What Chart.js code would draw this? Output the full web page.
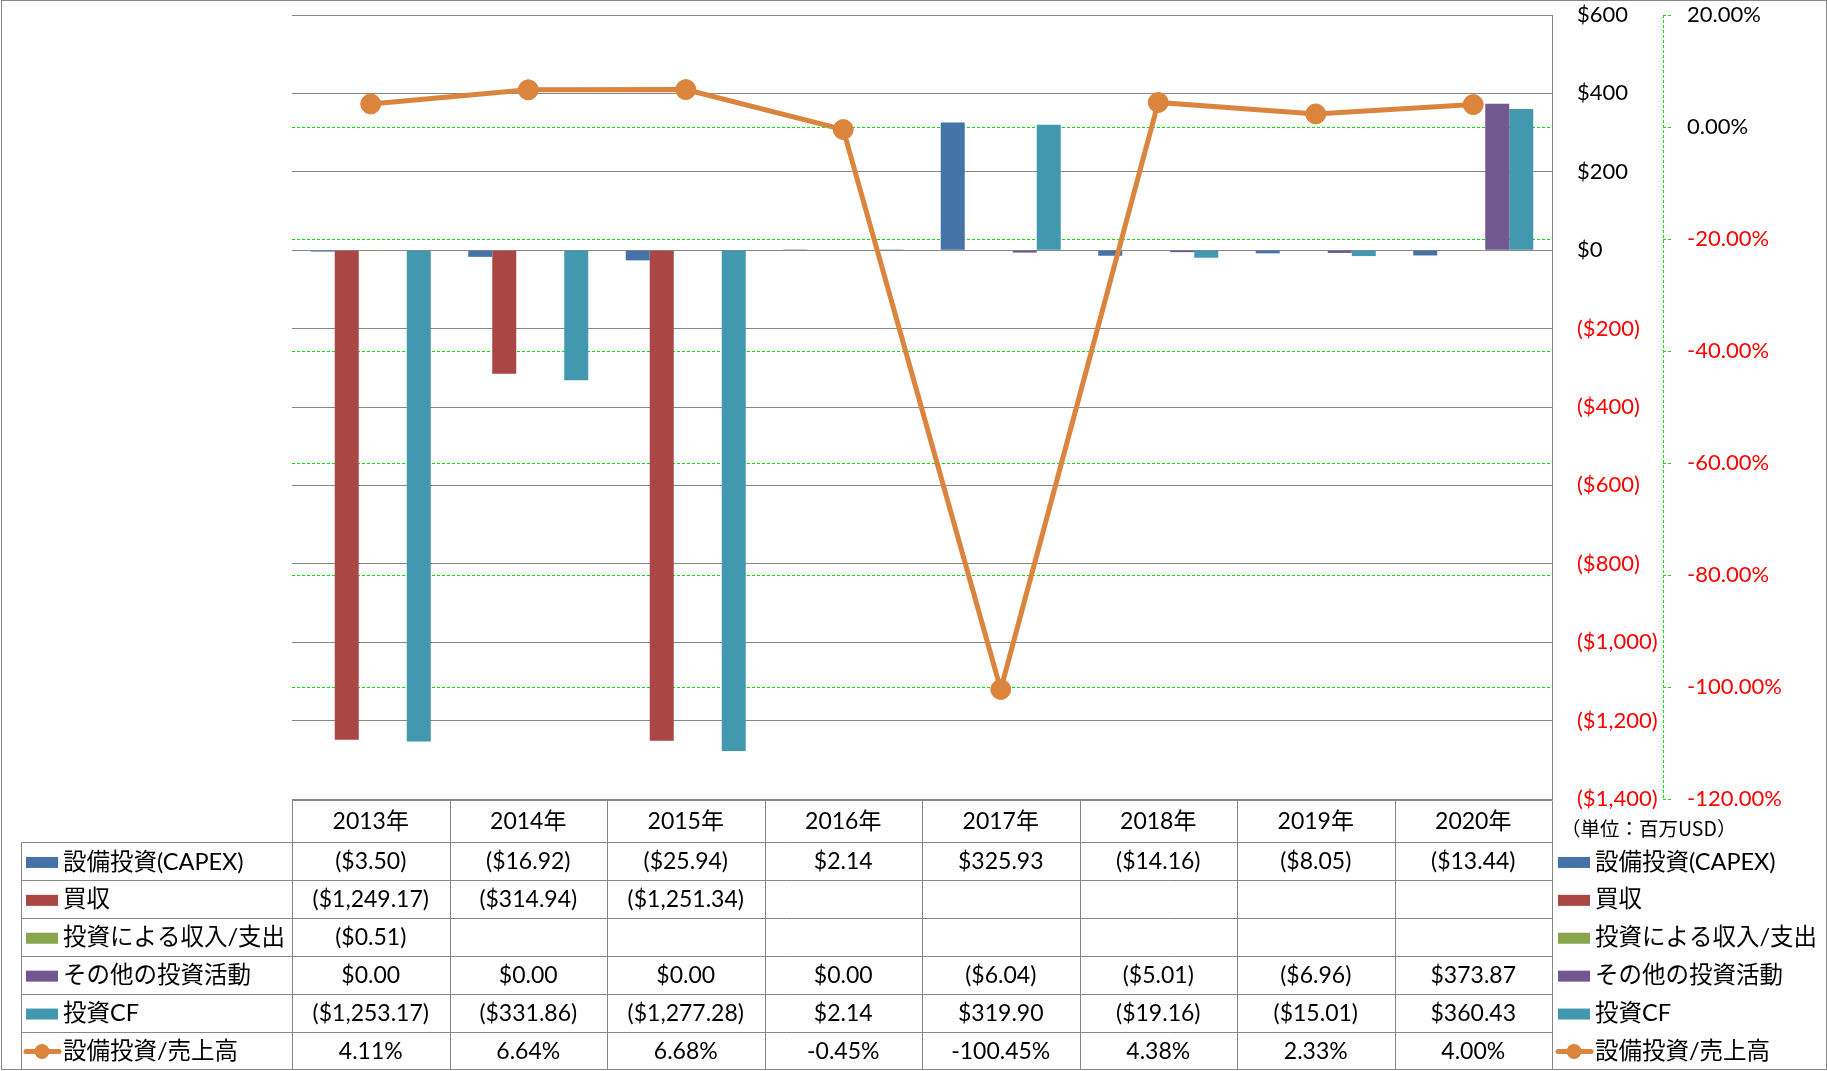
<!DOCTYPE html>
<html>
<head>
<meta charset="utf-8">
<script src="https://cdn.jsdelivr.net/npm/chart.js@4.4.1/dist/chart.umd.min.js"></script>
<style>
html,body{margin:0;padding:0;background:#fff;overflow:hidden}
canvas{display:block}
</style>
</head>
<body>
<canvas id="c" width="1827" height="1071"></canvas>
<script>
// ---- data ----
const categories = ['2013年','2014年','2015年','2016年','2017年','2018年','2019年','2020年'];
const capex      = [-3.50, -16.92, -25.94, 2.14, 325.93, -14.16, -8.05, -13.44];
const acquisition= [-1249.17, -314.94, -1251.34, null, null, null, null, null];
const investIO   = [-0.51, null, null, null, null, null, null, null];
const otherInvest= [0.00, 0.00, 0.00, 0.00, -6.04, -5.01, -6.96, 373.87];
const investCF   = [-1253.17, -331.86, -1277.28, 2.14, 319.90, -19.16, -15.01, 360.43];
const capexRatio = [4.11, 6.64, 6.68, -0.45, -100.45, 4.38, 2.33, 4.00];
const seriesNames = ['設備投資(CAPEX)','買収','投資による収入/支出','その他の投資活動','投資CF','設備投資/売上高'];
const usdRange = {min:-1400, max:600, step:200};
const pctRange = {min:-120, max:20, step:20};
const unitLabel = '（単位：百万USD）';

const FONT = 'Lato, "Noto Sans CJK JP", sans-serif';
const colors = ['#4572A7','#AA4643','#89A54E','#71588F','#4198AF','#DB843D'];
const GRAY = '#878787';
const GREEN = '#00e000';

function fmtMoney(v){
  if (v === null || v === undefined) return '';
  const s = Math.abs(v).toLocaleString('en-US',{minimumFractionDigits:2, maximumFractionDigits:2});
  return v < 0 ? '($' + s + ')' : '$' + s;
}
function fmtPct(v){
  if (v === null || v === undefined) return '';
  return v.toFixed(2) + '%';
}

const barSeries = [capex, acquisition, investIO, otherInvest, investCF];
const datasets = barSeries.map((d,i)=>({
  type:'bar', label:seriesNames[i], data:d, yAxisID:'y',
  backgroundColor:colors[i], borderWidth:0,
  categoryPercentage:0.762, barPercentage:1.0, order:0
}));
datasets.push({
  type:'line', label:seriesNames[5], data:capexRatio, yAxisID:'y1',
  borderColor:colors[5], backgroundColor:colors[5], borderWidth:5,
  pointRadius:10, pointHoverRadius:10, pointBackgroundColor:colors[5],
  pointBorderColor:colors[5], pointBorderWidth:1, tension:0, order:-1
});

function drawKey(ctx, ds, x, yc){
  ctx.save();
  if (ds.type === 'line'){
    ctx.strokeStyle = ds.borderColor; ctx.lineWidth = 5; ctx.lineCap='round';
    ctx.beginPath(); ctx.moveTo(x, yc); ctx.lineTo(x+33, yc); ctx.stroke();
    ctx.fillStyle = ds.borderColor;
    ctx.beginPath(); ctx.arc(x+16, yc, 7.5, 0, Math.PI*2); ctx.fill();
  } else {
    ctx.fillStyle = ds.backgroundColor;
    ctx.fillRect(x, yc-5, 32, 11);
  }
  ctx.restore();
}

const tablePlugin = {
  id:'dataTable',
  afterDraw(chart){
    const {ctx, chartArea} = chart;
    const xs = chart.scales.x;
    const n = categories.length;
    const L = chartArea.left, R = chartArea.right;
    const colW = (R - L) / n;
    const top = chartArea.bottom + 1;
    const headH = 42, rowH = 37.9;
    const leftX = 21;
    const rows = chart.data.datasets.length;
    const bottom = top + headH + rows*rowH;
    const px = v => Math.round(v) + 0.5;

    ctx.save();
    ctx.strokeStyle = GRAY; ctx.lineWidth = 1;
    ctx.beginPath();
    ctx.moveTo(L, px(top)); ctx.lineTo(R, px(top));
    for (let r = 0; r <= rows; r++){
      const y = px(top + headH + r*rowH);
      ctx.moveTo(px(leftX), y); ctx.lineTo(R, y);
    }
    for (let k = 0; k <= n; k++){
      const x = px(L + k*colW);
      ctx.moveTo(x, px(top)); ctx.lineTo(x, px(bottom));
    }
    ctx.moveTo(px(leftX), px(top+headH)); ctx.lineTo(px(leftX), px(bottom));
    ctx.stroke();

    ctx.fillStyle = '#000';
    ctx.textBaseline = 'middle';
    // header
    ctx.font = '23px ' + FONT;
    ctx.textAlign = 'center';
    categories.forEach((c,i)=>{
      ctx.fillText(c, xs.getPixelForValue(i), top + headH/2 + 1);
    });
    // rows
    chart.data.datasets.forEach((ds, r)=>{
      const yc = top + headH + r*rowH + rowH/2 + 1;
      drawKey(ctx, ds, 26, yc);
      drawKey(ctx, ds, 1558, yc);
      ctx.font = '23.5px ' + FONT;
      ctx.textAlign = 'left';
      ctx.fillText(ds.label, 63, yc);
      ctx.fillText(ds.label, 1595, yc);
      ctx.font = '23px ' + FONT;
      ctx.textAlign = 'center';
      ds.data.forEach((v,i)=>{
        const t = ds.type === 'line' ? fmtPct(v) : fmtMoney(v);
        ctx.fillText(t, xs.getPixelForValue(i), yc);
      });
    });

    // unit label
    ctx.textAlign = 'left';
    ctx.font = '19.5px "Noto Sans CJK JP", sans-serif';
    ctx.fillText(unitLabel, 1561, 829);

    // dashed secondary axis line
    const y1 = chart.scales.y1;
    ctx.strokeStyle = GREEN; ctx.lineWidth = 1; ctx.setLineDash([3,2]);
    ctx.beginPath();
    ctx.moveTo(px(y1.left), chartArea.top); ctx.lineTo(px(y1.left), chartArea.bottom);
    ctx.stroke();
    ctx.setLineDash([]);

    // chart border
    ctx.strokeStyle = GRAY;
    ctx.strokeRect(1.5, 0.5, 1825, 1069);
    ctx.restore();
  }
};

Chart.defaults.font.family = FONT;

function noPad(s){ s.paddingTop = 0; s.paddingBottom = 0; }

new Chart(document.getElementById('c'), {
  data:{ labels:categories, datasets:datasets },
  options:{
    responsive:false, animation:false, devicePixelRatio:1,
    layout:{ padding:{ left:292, top:15, bottom:272, right:0 } },
    plugins:{ legend:{display:false}, tooltip:{enabled:false} },
    scales:{
      x:{ display:false, offset:true },
      y:{
        position:'right', min:usdRange.min, max:usdRange.max,
        ticks:{
          stepSize:usdRange.step, padding:25, autoSkip:false,
          font:{size:22, family:FONT},
          color:c => c.tick && c.tick.value < 0 ? '#ff0000' : '#000000',
          callback:v => v < 0 ? '($' + Math.abs(v).toLocaleString('en-US') + ')' : '$' + v.toLocaleString('en-US')
        },
        grid:{ color:GRAY, lineWidth:1, drawTicks:false },
        border:{ display:true, color:GRAY },
        afterFit(s){ s.width = 111; noPad(s); }
      },
      y1:{
        position:'right', min:pctRange.min, max:pctRange.max,
        ticks:{
          stepSize:pctRange.step, padding:15, autoSkip:false,
          font:{size:22, family:FONT},
          color:c => c.tick && c.tick.value < 0 ? '#ff0000' : '#000000',
          callback:v => v.toFixed(2) + '%'
        },
        grid:{
          color:c => c.tick && (c.tick.value === pctRange.max || c.tick.value === pctRange.min) ? 'rgba(0,0,0,0)' : GREEN,
          lineWidth:1, drawTicks:true, tickLength:9, tickColor:GREEN, tickBorderDash:[3,2]
        },
        border:{ display:false, dash:[3,2] },
        afterFit(s){ s.width = 164; noPad(s); }
      }
    }
  },
  plugins:[tablePlugin]
});
</script>
</body>
</html>
